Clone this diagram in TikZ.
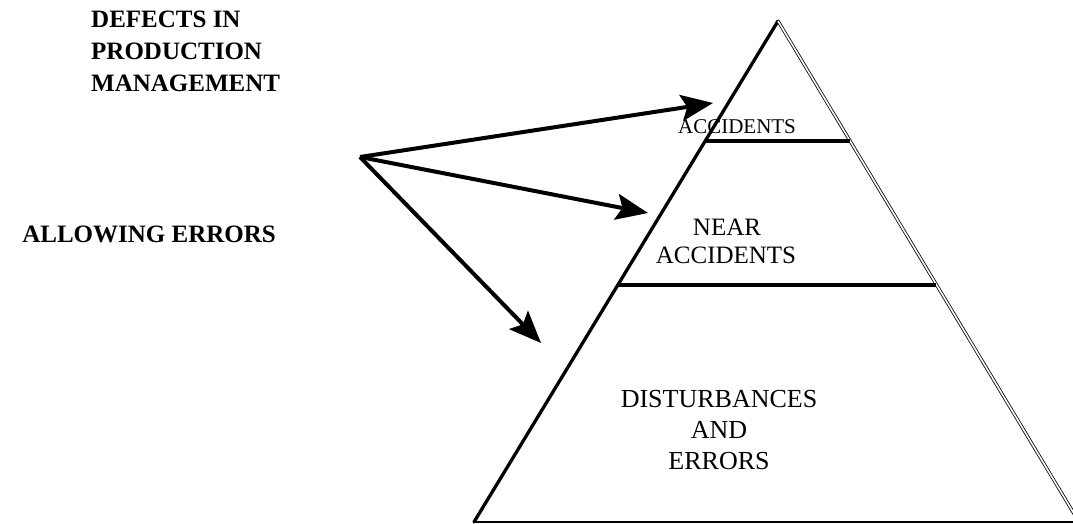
\documentclass[tikz,border=0pt]{standalone}
\usepackage{fontspec}
\setmainfont{Liberation Serif}
\usetikzlibrary{arrows.meta}

\tikzset{
  causetext/.style={anchor=base west, inner sep=0pt, font=\fontsize{25}{30}\selectfont\bfseries},
  leveltext/.style={anchor=base, inner sep=0pt, align=center, font=\fontsize{25}{31}\selectfont},
  bigtext/.style={anchor=base, inner sep=0pt, align=center, font=\fontsize{26}{31}\selectfont},
  toptext/.style={anchor=base, inner sep=0pt, font=\fontsize{21}{25}\selectfont},
  pyrside/.style={line width=3.3pt, line cap=round},
  pyrdouble/.style={double, line width=0.8pt, double distance=1.6pt},
  pyrbase/.style={line width=2.6pt},
  tierline/.style={line width=4pt},
  causearrow/.style={line width=4pt, -{Stealth[length=32pt, width=26pt, inset=6pt]}}
}

\begin{document}
\begin{tikzpicture}[x=1pt, y=-1pt]
  \useasboundingbox (0,0) rectangle (1073,524);

  % pyramid corners
  \coordinate (apex) at (778,21);
  \coordinate (bl) at (474,522);
  \coordinate (br) at (1079,522);

  % tier boundaries on the two sides
  \coordinate (t1l) at (705,141);
  \coordinate (t1r) at (850,141);
  \coordinate (t2l) at (618,285);
  \coordinate (t2r) at (936,285);

  % pyramid outline
  \draw[pyrside] (bl) -- (apex);
  \draw[pyrdouble] (apex) -- (br);
  \draw[pyrbase] (bl) -- (br);

  % tier separators
  \draw[tierline] (t1l) -- (t1r);
  \draw[tierline] (t2l) -- (t2r);

  % tier labels
  \node[toptext] (acc) at (737,134) {ACCIDENTS};
  \node[leveltext] (near) at (727,235) {NEAR};
  \node[leveltext] (nearacc) at (726,263) {ACCIDENTS};
  \node[bigtext] (dist) at (719,407) {DISTURBANCES};
  \node[bigtext] (and) at (719,438) {AND};
  \node[bigtext] (err) at (719,469) {ERRORS};

  % causes on the left
  \node[causetext] (defects) at (91,28) {DEFECTS IN};
  \node[causetext] (production) at (91,60) {PRODUCTION};
  \node[causetext] (management) at (91,92) {MANAGEMENT};
  \node[causetext, anchor=base east] (allowing) at (276,242) {ALLOWING ERRORS};

  % arrows from the common origin into the tiers
  \coordinate (src) at (360,157);
  \coordinate (tipacc) at (713,103);
  \coordinate (tipnear) at (648,213);
  \coordinate (tipdist) at (541,343);
  \draw[causearrow] (src) -- (tipacc);
  \draw[causearrow] (src) -- (tipnear);
  \draw[causearrow] (src) -- (tipdist);
\end{tikzpicture}
\end{document}
